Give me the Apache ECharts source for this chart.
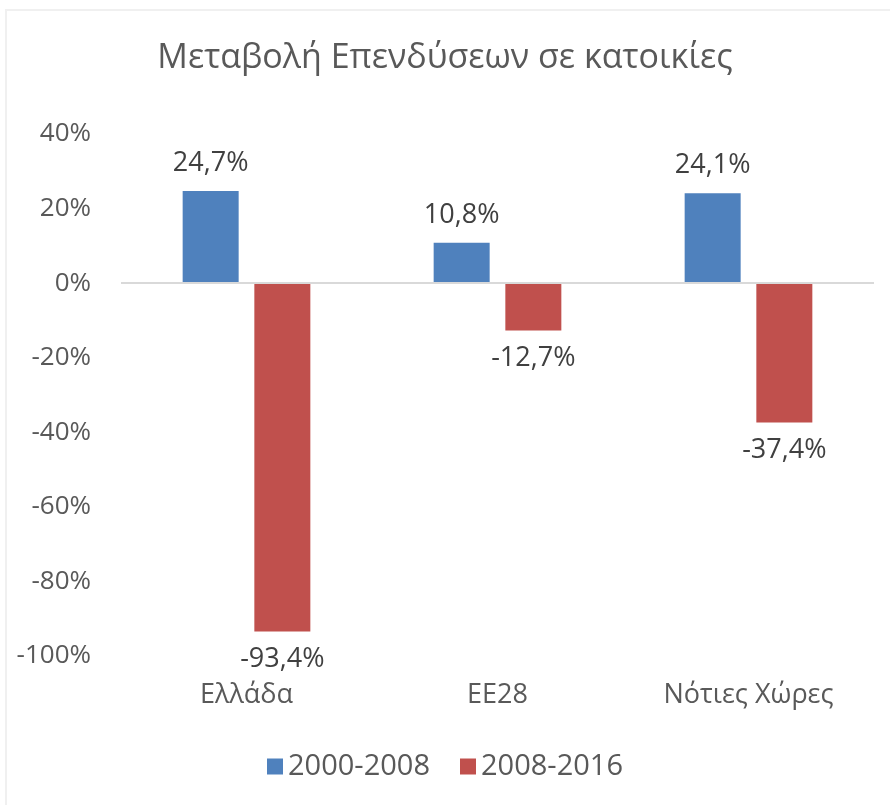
<!DOCTYPE html>
<html>
<head>
<meta charset="utf-8">
<script src="https://cdn.jsdelivr.net/npm/echarts@6/dist/echarts.min.js"></script>
<style>
  html, body { margin: 0; padding: 0; background: #fff; }
  #frame { position: absolute; left: 5px; top: 9px; width: 900px; height: 820px; border: 2px solid #f0f0f0; box-sizing: border-box; }
  #chart { position: absolute; left: 0; top: 0; width: 890px; height: 805px; }
</style>
</head>
<body>
<div id="frame"></div>
<div id="chart"></div>
<script>
var categories = ['Ελλάδα', 'ΕΕ28', 'Νότιες Χώρες'];
var period1 = [24.7, 10.8, 24.1];
var period2 = [-93.4, -12.7, -37.4];
var seriesNames = ['2000-2008', '2008-2016'];

var fontName = '"Open Sans", "Noto Sans", sans-serif';

var fmtPct = function (v) {
  return v.toFixed(1).replace('.', ',') + '%';
};

var labelConfig = function (pos) {
  return {
    show: true,
    position: pos,
    distance: 14,
    color: '#404040',
    fontSize: 27,
    fontFamily: fontName,
    formatter: function (p) { return fmtPct(p.value); }
  };
};

var chart = echarts.init(document.getElementById('chart'));
chart.setOption({
  animation: false,
  title: {
    text: 'Μεταβολή Επενδύσεων σε κατοικίες',
    left: 'center',
    top: 36,
    textStyle: { color: '#595959', fontSize: 34, fontWeight: 'normal', fontFamily: fontName }
  },
  legend: {
    data: seriesNames,
    bottom: 19,
    left: 'center',
    itemWidth: 16,
    itemHeight: 16,
    itemGap: 30,
    icon: 'rect',
    textStyle: { color: '#595959', fontSize: 29, fontFamily: fontName }
  },
  grid: { left: 121, right: 16, top: 134, bottom: 149 },
  xAxis: {
    type: 'category',
    data: categories,
    axisLine: { show: false, onZero: false },
    axisTick: { show: false },
    axisLabel: { color: '#595959', fontSize: 27, fontFamily: fontName, margin: 26 }
  },
  yAxis: {
    type: 'value',
    min: -100,
    max: 40,
    interval: 20,
    splitLine: { show: false },
    axisLine: { show: false },
    axisTick: { show: false },
    axisLabel: {
      color: '#595959', fontSize: 26, fontFamily: fontName, margin: 30,
      formatter: function (v) { return v + '%'; }
    }
  },
  series: [{
    name: seriesNames[0],
    type: 'bar',
    data: period1,
    barWidth: 56,
    barGap: '28%',
    itemStyle: { color: '#4f81bd' },
    label: labelConfig('top'),
    markLine: {
      silent: true,
      symbol: 'none',
      label: { show: false },
      lineStyle: { color: '#d9d9d9', width: 2, type: 'solid' },
      data: [{ yAxis: 0 }]
    }
  }, {
    name: seriesNames[1],
    type: 'bar',
    data: period2,
    barWidth: 56,
    itemStyle: { color: '#c0504d' },
    label: labelConfig('bottom')
  }]
});
</script>
</body>
</html>
